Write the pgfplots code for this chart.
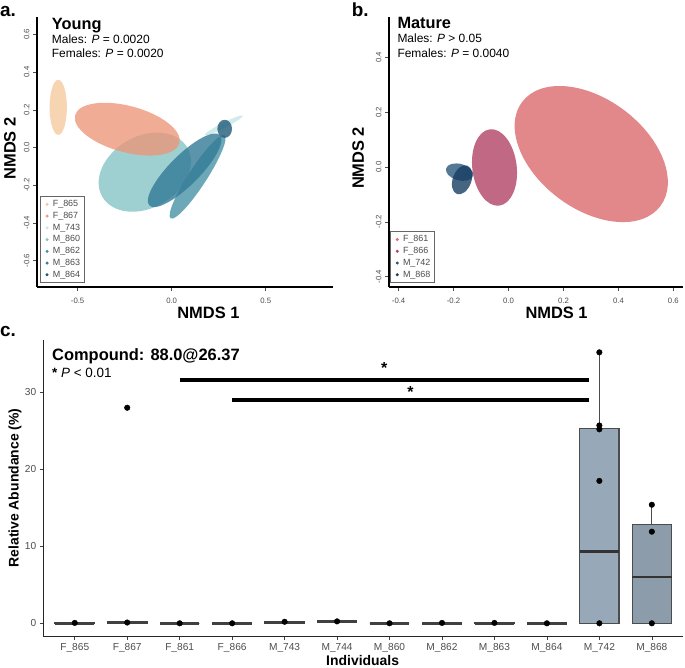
\documentclass[border=0pt]{standalone}
\usepackage{fontspec}
\setmainfont{Liberation Sans}
\usepackage{pgfplots}
\pgfplotsset{compat=1.18}
\usepgfplotslibrary{statistics}

% ellipse fills (drawn at 80% opacity as in the source figure)
\definecolor{cF865}{HTML}{F5C99F}
\definecolor{cF867}{HTML}{EC9779}
\definecolor{cM743}{HTML}{C4E7E5}
\definecolor{cM860}{HTML}{86C4C7}
\definecolor{cM862}{HTML}{4792A6}
\definecolor{cM863}{HTML}{337A96}
\definecolor{cM864}{HTML}{1F5A78}
\definecolor{cF861}{HTML}{DB6A6E}
\definecolor{cF866}{HTML}{B14267}
\definecolor{cM742}{HTML}{2B567C}
\definecolor{cM868}{HTML}{163F62}
\definecolor{boxA}{HTML}{97A9B8}
\definecolor{boxB}{HTML}{8C9CAB}
\definecolor{txtgray}{HTML}{4D4D4D}

% {colour}{centre x}{centre y}{semi-axis a}{semi-axis b}{angle}
\newcommand{\ellip}[6]{\fill[#1, fill opacity=0.8, rotate around={#6:(axis cs:#2,#3)}] (axis cs:#2,#3) ellipse [x radius=#4, y radius=#5];}

\pgfplotsset{
  nmds/.style={
    scale only axis, axis lines=left,
    axis line style={-, line width=1.5bp, black},
    tick align=outside, major tick length=4bp,
    tick style={black!70, line width=0.5bp},
    tick label style={font=\fontsize{7.8}{8}\selectfont, text=txtgray},
    xticklabel style={yshift=-4bp},
    yticklabel style={rotate=90, anchor=south},
    label style={font=\bfseries\fontsize{16.5}{18}\selectfont},
    legend cell align=left,
    legend style={draw=black!60, line width=0.6bp, font=\fontsize{9}{9.5}\selectfont,
      text=txtgray, inner sep=2bp, row sep=0bp, anchor=south west},
    legend image code/.code={\path (0cm,0cm) (0.28cm,0cm); \draw[#1] plot coordinates {(0.16cm,0cm)};},
  },
  dot/.style={only marks, mark=*, mark size=1.2bp, color=#1},
  zero/.style={boxplot/every box/.style={draw=black!75, line width=1.5bp},
    boxplot/every median/.style={draw=black!75, line width=3bp},
    boxplot/every whisker/.style={draw=black!75, line width=1bp}},
}

\begin{document}
\begin{tikzpicture}
\useasboundingbox (0,0) rectangle (685bp,668bp);

% ---------- a. Young ----------
\begin{axis}[nmds, at={(37bp,381bp)}, anchor=south west, width=296bp, height=270bp,
  xmin=-0.716, xmax=0.858, ymin=-0.74, ymax=0.692,
  xtick={-0.5,0,0.5}, xticklabels={-0.5,0.0,0.5},
  ytick={-0.6,-0.4,-0.2,0,0.2,0.4,0.6}, yticklabels={-0.6,-0.4,-0.2,0.0,0.2,0.4,0.6},
  xlabel={NMDS 1}, ylabel={NMDS 2},
  x label style={at={(axis description cs:0.579,-0.115)}, anchor=base},
  y label style={at={(axis description cs:-0.091,0.513)}, anchor=center},
  legend style={at={(rel axis cs:0.01,0.015)}}]
\addlegendimage{dot=cF865}\addlegendentry{F\_865}
\addlegendimage{dot=cF867}\addlegendentry{F\_867}
\addlegendimage{dot=cM743}\addlegendentry{M\_743}
\addlegendimage{dot=cM860}\addlegendentry{M\_860}
\addlegendimage{dot=cM862}\addlegendentry{M\_862}
\addlegendimage{dot=cM863}\addlegendentry{M\_863}
\addlegendimage{dot=cM864}\addlegendentry{M\_864}
\ellip{cF865}{-0.603}{0.213}{0.046}{0.146}{0}
\ellip{cM860}{-0.143}{-0.131}{0.261}{0.190}{30}
\ellip{cF867}{-0.236}{0.097}{0.287}{0.123}{-15}
\ellip{cM743}{0.277}{0.117}{0.114}{0.014}{27}
\ellip{cM862}{0.138}{-0.156}{0.263}{0.048}{57}
\ellip{cM863}{0.069}{-0.121}{0.265}{0.080}{45}
\ellip{cM864}{0.282}{0.099}{0.039}{0.048}{0}
\end{axis}

% ---------- b. Mature ----------
\begin{axis}[nmds, at={(389bp,381bp)}, anchor=south west, width=294bp, height=270bp,
  xmin=-0.435, xmax=0.635, ymin=-0.438, ymax=0.547,
  xtick={-0.4,-0.2,0,0.2,0.4,0.6}, xticklabels={-0.4,-0.2,0.0,0.2,0.4,0.6},
  ytick={-0.4,-0.2,0,0.2,0.4}, yticklabels={-0.4,-0.2,0.0,0.2,0.4},
  xlabel={NMDS 1}, ylabel={NMDS 2},
  x label style={at={(axis description cs:0.570,-0.115)}, anchor=base},
  y label style={at={(axis description cs:-0.105,0.478)}, anchor=center},
  legend style={at={(rel axis cs:0.004,0.015)}}]
\addlegendimage{dot=cF861}\addlegendentry{F\_861}
\addlegendimage{dot=cF866}\addlegendentry{F\_866}
\addlegendimage{dot=cM742}\addlegendentry{M\_742}
\addlegendimage{dot=cM868}\addlegendentry{M\_868}
\ellip{cF861}{0.301}{0.047}{0.315}{0.200}{-37}
\ellip{cF866}{-0.051}{-0.002}{0.140}{0.081}{97}
\ellip{cM742}{-0.178}{-0.019}{0.051}{0.030}{-15}
\ellip{cM868}{-0.169}{-0.047}{0.055}{0.034}{70}
\end{axis}

% ---------- c. boxplots ----------
\begin{axis}[at={(43.3bp,32bp)}, anchor=south west, scale only axis,
  width=640bp, height=296bp,
  xmin=-0.6, xmax=11.6, ymin=-1.65, ymax=36.8,
  axis lines=left, axis line style={-, line width=0.8bp, black!85},
  tick align=outside, major tick length=3.5bp, tick style={black!75, line width=0.6bp},
  xtick={0,...,11},
  xticklabels={F\_865,F\_867,F\_861,F\_866,M\_743,M\_744,M\_860,M\_862,M\_863,M\_864,M\_742,M\_868},
  ytick={0,10,20,30},
  tick label style={font=\fontsize{10.2}{11}\selectfont, text=txtgray},
  /pgf/number format/assume math mode=true,
  xlabel={Individuals}, ylabel={Relative Abundance (\%)},
  label style={font=\bfseries\fontsize{14}{16}\selectfont},
  x label style={at={(axis description cs:0.499,-0.101)}, anchor=base},
  y label style={at={(axis description cs:-0.044,0.5)}, anchor=center},
  boxplot/draw direction=y, boxplot/box extend=0.75, boxplot/whisker extend=0]
\addplot[zero, boxplot prepared={draw position=0, lower whisker=0, lower quartile=0, median=0, upper quartile=0.05, upper whisker=0.05}] coordinates {};
\addplot[zero, boxplot prepared={draw position=1, lower whisker=0, lower quartile=0, median=0.1, upper quartile=0.2, upper whisker=0.2}] coordinates {};
\addplot[zero, boxplot prepared={draw position=2, lower whisker=0, lower quartile=0, median=0, upper quartile=0, upper whisker=0}] coordinates {};
\addplot[zero, boxplot prepared={draw position=3, lower whisker=0, lower quartile=0, median=0, upper quartile=0, upper whisker=0}] coordinates {};
\addplot[zero, boxplot prepared={draw position=4, lower whisker=0, lower quartile=0.05, median=0.15, upper quartile=0.2, upper whisker=0.2}] coordinates {};
\addplot[zero, boxplot prepared={draw position=5, lower whisker=0, lower quartile=0.1, median=0.2, upper quartile=0.3, upper whisker=0.3}] coordinates {};
\addplot[zero, boxplot prepared={draw position=6, lower whisker=0, lower quartile=0, median=0, upper quartile=0, upper whisker=0}] coordinates {};
\addplot[zero, boxplot prepared={draw position=7, lower whisker=0, lower quartile=0, median=0, upper quartile=0.05, upper whisker=0.05}] coordinates {};
\addplot[zero, boxplot prepared={draw position=8, lower whisker=0, lower quartile=0, median=0, upper quartile=0.05, upper whisker=0.05}] coordinates {};
\addplot[zero, boxplot prepared={draw position=9, lower whisker=0, lower quartile=0, median=0, upper quartile=0, upper whisker=0}] coordinates {};
\addplot[boxplot prepared={draw position=10, lower whisker=0, lower quartile=0, median=9.3, upper quartile=25.3, upper whisker=35.2,
  every box/.style={fill=boxA, draw=black!70, line width=1.1bp},
  every median/.style={draw=black!80, line width=2.6bp},
  every whisker/.style={draw=black!70, line width=1.1bp}}] coordinates {};
\addplot[boxplot prepared={draw position=11, lower whisker=0, lower quartile=0, median=6.0, upper quartile=12.8, upper whisker=15.4,
  every box/.style={fill=boxB, draw=black!70, line width=1.1bp},
  every median/.style={draw=black!80, line width=2.6bp},
  every whisker/.style={draw=black!70, line width=1.1bp}}] coordinates {};
% individual observations
\addplot[only marks, mark=*, mark size=2.8bp, black] coordinates {
  (0,0.05) (1,0.1) (1,28.0) (2,0) (3,0) (4,0.2) (5,0.25) (6,0) (7,0.05) (8,0.05) (9,0)
  (10,35.2) (10,25.7) (10,25.2) (10,18.5) (10,0)
  (11,15.4) (11,11.9) (11,0)};
% significance brackets
\addplot[black, line width=3.2bp] coordinates {(2,31.6) (9.8,31.6)};
\addplot[black, line width=3.2bp] coordinates {(3,29.0) (9.8,29.0)};
\node[font=\bfseries\fontsize{16}{16}\selectfont] at (axis cs:5.9,33.2) {*};
\node[font=\bfseries\fontsize{16}{16}\selectfont] at (axis cs:6.4,30.0) {*};
\end{axis}

% ---------- panel texts ----------
\begin{scope}[every node/.style={inner sep=0pt, anchor=base west}]
\node[font=\bfseries\fontsize{19}{20}\selectfont] at (0bp,651.3bp) {a.};
\node[font=\bfseries\fontsize{16.4}{18}\selectfont] at (51.7bp,638.5bp) {Young};
\node[font=\fontsize{12}{13}\selectfont] at (51.7bp,624.5bp) {Males: \textit{P} = 0.0020};
\node[font=\fontsize{12}{13}\selectfont] at (51.7bp,610bp) {Females: \textit{P} = 0.0020};
\node[font=\bfseries\fontsize{19}{20}\selectfont] at (351.7bp,651.3bp) {b.};
\node[font=\bfseries\fontsize{16.4}{18}\selectfont] at (397.3bp,639.7bp) {Mature};
\node[font=\fontsize{12}{13}\selectfont] at (397.3bp,625.3bp) {Males: \textit{P} > 0.05};
\node[font=\fontsize{12}{13}\selectfont] at (397.3bp,610.7bp) {Females: \textit{P} = 0.0040};
\node[font=\bfseries\fontsize{19}{20}\selectfont] at (0bp,331bp) {c.};
\node[font=\bfseries\fontsize{16.5}{18}\selectfont] at (52bp,307.3bp) {Compound: 88.0@26.37};
\node[font=\fontsize{13.5}{15}\selectfont] at (52bp,290.3bp) {\textbf{*} \textit{P} < 0.01};
\end{scope}
\end{tikzpicture}
\end{document}
